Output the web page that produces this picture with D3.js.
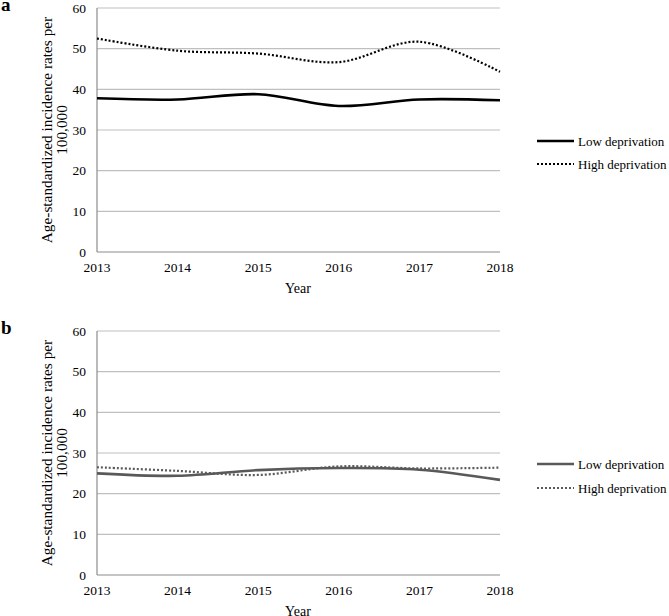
<!DOCTYPE html>
<html>
<head>
  <meta charset="utf-8">
  <script src="https://cdn.jsdelivr.net/npm/d3@7"></script>
  <style>
    body { margin: 0; background: #fff; }
    text { font-family: "Liberation Serif", "Times New Roman", serif; fill: #000; }
  </style>
</head>
<body>
  <svg id="chart" width="669" height="616"></svg>
  <script>
    let years = [2013, 2014, 2015, 2016, 2017, 2018]
    let yTicks = [0, 10, 20, 30, 40, 50, 60]
    let seriesNames = ["Low deprivation", "High deprivation"]

    // panel a
    let lowA = [37.8, 37.5, 38.8, 35.9, 37.5, 37.3]
    let highA = [52.5, 49.5, 48.8, 46.7, 51.7, 44.3]
    // panel b
    let lowB = [25.0, 24.4, 25.8, 26.3, 25.9, 23.4]
    let highB = [26.5, 25.6, 24.6, 26.7, 26.2, 26.4]

    let svg = d3.select("#chart")

    function panel(top, letter, low, high, color, legY) {
      let g = svg.append("g")

      let scX = d3.scaleLinear()
                  .domain([2013, 2018])
                  .range([97, 500])
      let scY = d3.scaleLinear()
                  .domain([0, 60])
                  .range([top + 244, top])

      // grid
      g.selectAll("line.grid")
       .data(yTicks.slice(1))
       .enter().append("line")
       .attr("x1", 97).attr("x2", 500)
       .attr("y1", d => scY(d)).attr("y2", d => scY(d))
       .attr("stroke", "#bfbfbf").attr("stroke-width", 1.2)

      // axes lines
      g.append("line")
       .attr("x1", 97).attr("x2", 97)
       .attr("y1", scY(60)).attr("y2", scY(0))
       .attr("stroke", "#8c8c8c").attr("stroke-width", 1.2)
      g.append("line")
       .attr("x1", 97).attr("x2", 500)
       .attr("y1", scY(0)).attr("y2", scY(0))
       .attr("stroke", "#8c8c8c").attr("stroke-width", 1.2)

      g.selectAll("text.yt")
       .data(yTicks)
       .enter().append("text")
       .attr("x", 86).attr("y", d => scY(d) + 4.5)
       .attr("text-anchor", "end")
       .attr("font-size", 13.5)
       .text(d => d)

      g.selectAll("text.xt")
       .data(years)
       .enter().append("text")
       .attr("x", d => scX(d)).attr("y", scY(0) + 20)
       .attr("text-anchor", "middle")
       .attr("font-size", 13.5)
       .text(d => d)

      g.append("text")
       .attr("x", 298).attr("y", scY(0) + 41)
       .attr("text-anchor", "middle")
       .attr("font-size", 14)
       .text("Year")

      let yl = g.append("text")
                .attr("transform", `translate(52, ${scY(30)}) rotate(-90)`)
                .attr("text-anchor", "middle")
                .attr("font-size", 15.3)
      yl.append("tspan").attr("x", 0).attr("dy", 0).text("Age-standardized incidence rates per")
      yl.append("tspan").attr("x", 0).attr("dy", 15).text("100,000")

      g.append("text")
       .attr("x", 1).attr("y", top + 3)
       .attr("font-size", 19).attr("font-weight", "bold")
       .text(letter)

      let line = d3.line()
                   .x((d, i) => scX(years[i]))
                   .y(d => scY(d))
                   .curve(d3.curveCardinal.tension(0))

      g.append("path")
       .attr("d", line(low))
       .attr("fill", "none").attr("stroke", color)
       .attr("stroke-width", 2.6)
      g.append("path")
       .attr("d", line(high))
       .attr("fill", "none").attr("stroke", color)
       .attr("stroke-width", 2.2)
       .attr("stroke-dasharray", "2,2")

      // legend
      seriesNames.forEach((name, i) => {
        g.append("line")
         .attr("x1", 537).attr("x2", 574)
         .attr("y1", legY[i]).attr("y2", legY[i])
         .attr("stroke", color)
         .attr("stroke-width", i === 0 ? 2.6 : 2.2)
         .attr("stroke-dasharray", i === 0 ? null : "2,2")
        g.append("text")
         .attr("x", 578).attr("y", legY[i] + 4.5)
         .attr("font-size", 13)
         .text(name)
      })
    }

    panel(8, "a", lowA, highA, "#000", [141, 164])
    panel(331, "b", lowB, highB, "#595959", [464, 488])
  </script>
</body>
</html>
